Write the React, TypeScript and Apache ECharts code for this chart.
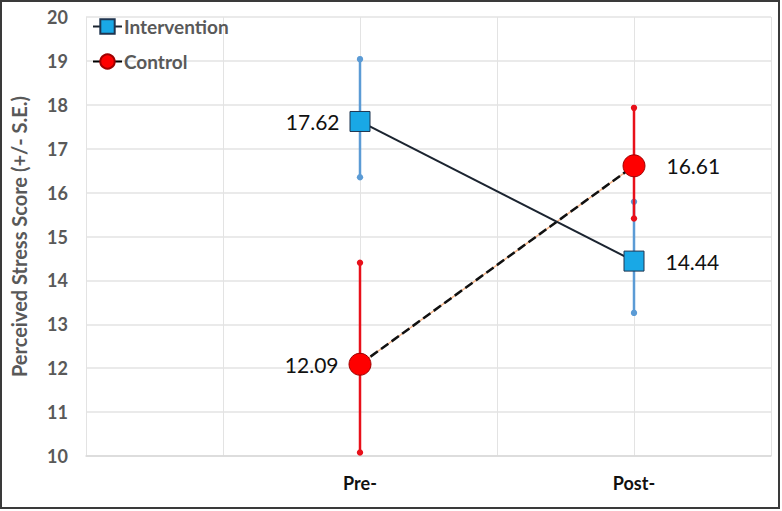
import React, { useEffect, useRef } from "react";
import * as echarts from "echarts";

const timeLabels = ["", "", "Pre-", "", "Post-", ""];
const timePositions = [2, 4];
const seriesNames = ["Intervention", "Control"];
const interventionMeans = [17.62, 14.44];
const interventionHigh = [19.04, 15.79];
const interventionLow = [16.35, 13.26];
const controlMeans = [12.09, 16.61];
const controlHigh = [14.4, 17.93];
const controlLow = [10.08, 15.41];
const yTicks = { min: 10, max: 20, interval: 1 };

const FONT = "Lato, 'Open Sans', sans-serif";

function errorSeries(name: string, color: string, low: number[], high: number[]) {
  const data = timePositions.map((x, i) => [x, low[i], high[i]]);
  return {
    type: "custom",
    name,
    z: 2,
    silent: true,
    data,
    encode: { x: 0, y: [1, 2] },
    renderItem: (params: any, api: any) => {
      const x = api.value(0);
      const lo = api.coord([x, api.value(1)]);
      const hi = api.coord([x, api.value(2)]);
      return {
        type: "group",
        children: [
          {
            type: "line",
            shape: { x1: lo[0], y1: lo[1], x2: hi[0], y2: hi[1] },
            style: { stroke: color, lineWidth: 2.5 },
          },
          { type: "circle", shape: { cx: lo[0], cy: lo[1], r: 3.2 }, style: { fill: color } },
          { type: "circle", shape: { cx: hi[0], cy: hi[1], r: 3.2 }, style: { fill: color } },
        ],
      };
    },
  };
}

const labelStyle = { fontSize: 21, color: "#111", fontFamily: FONT };

function pointLabel(i: number) {
  return i === 0
    ? { position: "left", distance: 10 }
    : { position: "right", distance: 21 };
}

export default function App() {
  const ref = useRef<HTMLDivElement>(null);
  useEffect(() => {
    if (!ref.current) return;
    const chart = echarts.init(ref.current, undefined, { renderer: "svg" });
    chart.setOption({
      animation: false,
      backgroundColor: "#fff",
      grid: { left: 86, right: 11, top: 17, bottom: 55 },
      graphic: [
        {
          type: "rect",
          shape: { x: 1, y: 1, width: 778, height: 507 },
          style: { fill: "none", stroke: "#3a3a3a", lineWidth: 2 },
          z: 100,
        },
      ],
      legend: {
        orient: "vertical",
        left: 92,
        top: 17,
        padding: 0,
        itemWidth: 29,
        itemHeight: 18,
        itemGap: 16,
        data: [
          { name: seriesNames[0] },
          { name: seriesNames[1], lineStyle: { type: "solid", color: "#000" } },
        ],
        textStyle: { fontSize: 19, fontWeight: "bold", color: "#595959", fontFamily: FONT, padding: [0, 0, 0, -3] },
      },
      xAxis: {
        type: "value",
        min: 0,
        max: 5,
        interval: 1,
        axisLine: { show: true, lineStyle: { color: "#d9d9d9", width: 1.5 } },
        axisTick: { show: false },
        splitLine: { show: true, lineStyle: { color: "#e3e3e3", width: 1 } },
        axisLabel: {
          formatter: (v: number) => timeLabels[Math.round(v)] || "",
          fontSize: 18,
          fontWeight: "bold",
          color: "#111",
          fontFamily: FONT,
          margin: 18,
          showMinLabel: true,
          showMaxLabel: true,
        },
      },
      yAxis: {
        type: "value",
        min: yTicks.min,
        max: yTicks.max,
        interval: yTicks.interval,
        name: "Perceived Stress Score (+/- S.E.)",
        nameLocation: "middle",
        nameGap: 57,
        nameTextStyle: { fontSize: 20, fontWeight: "bold", color: "#595959", fontFamily: FONT },
        axisLine: { show: false },
        axisTick: { show: false },
        splitLine: { show: true, lineStyle: { color: "#e3e3e3", width: 1.5 } },
        axisLabel: { fontSize: 18, fontWeight: "bold", color: "#595959", fontFamily: FONT, margin: 18 },
      },
      series: [
        errorSeries("Intervention SE", "#5B9BD5", interventionLow, interventionHigh),
        errorSeries("Control SE", "#E8101A", controlLow, controlHigh),
        {
          type: "line",
          name: "Control underlay",
          z: 3,
          silent: true,
          symbol: "none",
          data: timePositions.map((x, i) => [x, controlMeans[i]]),
          lineStyle: { color: "#F4B183", width: 1.5 },
        },
        {
          type: "line",
          name: seriesNames[1],
          z: 4,
          symbol: "circle",
          symbolSize: 22,
          itemStyle: { color: "#FF0000", borderColor: "#A00000", borderWidth: 1 },
          lineStyle: { color: "#111", width: 2.5, type: [9, 4] },
          label: {
            show: true,
            ...labelStyle,
            formatter: (p: any) => p.value[1].toFixed(2),
          },
          data: timePositions.map((x, i) => ({
            value: [x, controlMeans[i]],
            label: pointLabel(i),
          })),
        },
        {
          type: "line",
          name: seriesNames[0],
          z: 5,
          symbol: "rect",
          symbolSize: 20,
          itemStyle: { color: "#19A8E6", borderColor: "#1F3550", borderWidth: 1 },
          lineStyle: { color: "#1B2430", width: 2 },
          label: {
            show: true,
            ...labelStyle,
            formatter: (p: any) => p.value[1].toFixed(2),
          },
          data: timePositions.map((x, i) => ({
            value: [x, interventionMeans[i]],
            label: pointLabel(i),
          })),
        },
      ],
    });
    return () => chart.dispose();
  }, []);
  return (
    <div
      ref={ref}
      style={{ position: "fixed", left: 0, top: 0, width: 782, height: 511 }}
    />
  );
}
